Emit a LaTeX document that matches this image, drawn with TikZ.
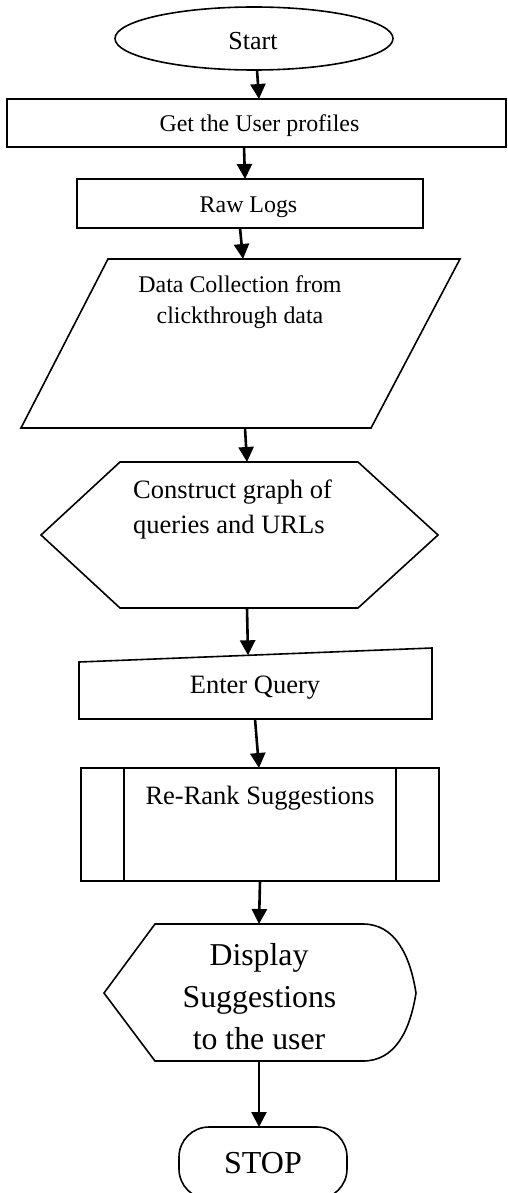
\documentclass[tikz,border=0pt]{standalone}
\usepackage{fontspec}
\setmainfont{Liberation Serif}
\usetikzlibrary{arrows.meta,shapes.geometric}
\begin{document}
\begin{tikzpicture}[x=1pt,y=-1pt,
  shp/.style={draw=black,line width=1.6pt,line join=miter},
  box/.style={inner sep=0pt,outer sep=0pt},
  arr/.style={line width=2.6pt,-{Triangle[length=15pt,width=15pt]}},
  txt/.style={inner sep=0pt,anchor=base},
  fa/.style={font=\fontsize{23.9}{30}\selectfont},
  fb/.style={font=\fontsize{26.5}{33}\selectfont},
  fc/.style={font=\fontsize{31.8}{40}\selectfont}]
\useasboundingbox[fill=white] (0,0) rectangle (507,1193);

% Start
\node[box,shp,ellipse,minimum width=278pt,minimum height=63pt] (start) at (254,38.5) {};
\node[txt,font=\fontsize{26}{32}\selectfont] (startT) at (253,50) {Start};

% Get the User profiles
\node[box,shp,minimum width=499pt,minimum height=48pt] (get) at (256.5,123) {};
\node[txt,fa] (getT) at (259.5,132) {Get the User profiles};

% Raw Logs
\node[box,shp,minimum width=346pt,minimum height=49pt] (raw) at (250,203.5) {};
\node[txt,fa] (rawT) at (248.5,212) {Raw Logs};

% Data collection (parallelogram)
\node[box,minimum width=439pt,minimum height=169pt] (dc) at (240.5,343.5) {};
\draw[shp] (108,259) -- (460,259) -- (371,428) -- (21,428) -- cycle;
\node[txt,fa] (dcA) at (240,292) {Data Collection from};
\node[txt,fa] (dcB) at (240,323) {clickthrough data};

% Construct graph (hexagon)
\node[box,minimum width=397pt,minimum height=146pt] (hex) at (239.5,535) {};
\draw[shp] (41,535) -- (120,462) -- (358,462) -- (438,535) -- (358,608) -- (120,608) -- cycle;
\node[txt,fb,anchor=base west] (hexA) at (133,498) {Construct graph of};
\node[txt,fb,anchor=base west] (hexB) at (133,533) {queries and URLs};

% Enter Query (manual input)
\node[box,minimum width=353pt,minimum height=71pt] (eq) at (255.5,683.5) {};
\draw[shp] (79,662) -- (432,648) -- (432,719) -- (79,719) -- cycle;
\node[txt,fb] (eqT) at (255,693) {Enter Query};

% Re-Rank Suggestions (predefined process)
\node[box,shp,minimum width=358pt,minimum height=113pt] (pp) at (260,824.5) {};
\draw[shp] ([xshift=43pt]pp.north west) -- ([xshift=43pt]pp.south west);
\draw[shp] ([xshift=-43pt]pp.north east) -- ([xshift=-43pt]pp.south east);
\node[txt,fb] (ppT) at (260,804) {Re-Rank Suggestions};

% Display
\node[box,minimum width=312pt,minimum height=137pt] (disp) at (260,992.5) {};
\draw[shp] (104,993) -- (155,924) -- (363,924) .. controls (395,924) and (410,955) .. (416,993)
  .. controls (410,1031) and (395,1061) .. (363,1061) -- (155,1061) -- cycle;
\node[txt,fc] (dA) at (259,965) {Display};
\node[txt,fc] (dB) at (259.5,1007) {Suggestions};
\node[txt,fc] (dC) at (259,1049) {to the user};

% STOP
\node[box,shp,rounded corners=30pt,minimum width=168pt,minimum height=72pt] (stop) at (263,1163) {};
\node[txt,font=\fontsize{32}{40}\selectfont] (stopT) at (263,1173) {STOP};

% connectors
\draw[arr] ([xshift=3pt]start.south) -- ([xshift=2.5pt]get.north);
\draw[arr] ([xshift=-12.5pt]get.south) -- ([xshift=-5pt]raw.north);
\draw[arr] ([xshift=-10pt]raw.south) -- ([xshift=2.5pt]dc.north);
\draw[arr] ([xshift=4.5pt]dc.south) -- ([xshift=7.5pt]hex.north);
\draw[arr] ([xshift=7.5pt]hex.south) -- ([xshift=-7.5pt,yshift=-7.3pt]eq.north);
\draw[arr] ([xshift=-0.5pt]eq.south) -- ([xshift=-1pt]pp.north);
\draw[arr] (pp.south) -- ([xshift=-1pt]disp.north);
\draw[arr] ([xshift=-1pt]disp.south) -- ([xshift=-4pt]stop.north);
\end{tikzpicture}
\end{document}
